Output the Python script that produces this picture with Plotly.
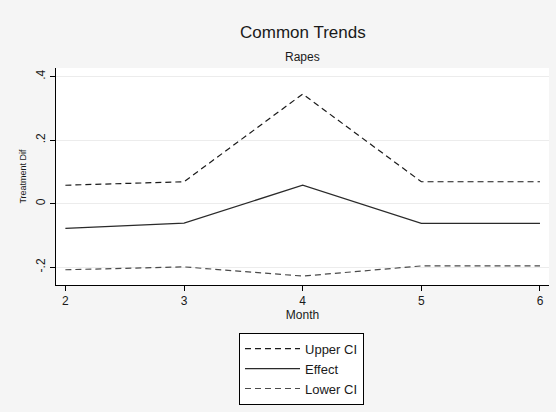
import plotly.graph_objects as go

months = [2, 3, 4, 5, 6]
upper_ci = [0.058, 0.069, 0.345, 0.069, 0.069]
effect = [-0.078, -0.061, 0.058, -0.062, -0.062]
lower_ci = [-0.208, -0.199, -0.228, -0.196, -0.196]

y_tickvals = [-0.2, 0, 0.2, 0.4]
y_ticktext = ["-.2", "0", ".2", ".4"]
x_tickvals = [2, 3, 4, 5, 6]

FONT = "Liberation Sans, Arial, sans-serif"

fig = go.Figure()
fig.add_trace(go.Scatter(x=months, y=upper_ci, mode="lines", name="Upper CI",
                         line=dict(color="#1a1a1a", width=1.2, dash="6px,4px")))
fig.add_trace(go.Scatter(x=months, y=effect, mode="lines", name="Effect",
                         line=dict(color="#2a2a2a", width=1.2)))
fig.add_trace(go.Scatter(x=months, y=lower_ci, mode="lines", name="Lower CI",
                         line=dict(color="#4a4a4a", width=1.2, dash="6px,4px")))

plot_h = 412 - 68 - 127

fig.update_layout(
    width=556, height=412,
    margin=dict(l=56, r=7, t=68, b=127),
    paper_bgcolor="#f5f5f5",
    plot_bgcolor="#ffffff",
    font=dict(family=FONT, size=12, color="#1a1a1a"),
    showlegend=True,
    legend=dict(x=0.498, xanchor="center", y=-0.22, yanchor="top",
                bgcolor="#ffffff", bordercolor="#000000", borderwidth=1,
                font=dict(family=FONT, size=13, color="#1a1a1a"),
                itemwidth=55, tracegroupgap=0),
    xaxis=dict(range=[1.921, 6.076], tickvals=x_tickvals,
               showline=True, linecolor="#000000", linewidth=1,
               ticks="outside", ticklen=5, tickcolor="#000000",
               showgrid=False, zeroline=False,
               tickfont=dict(size=12),
               title=dict(text="Month", font=dict(size=12), standoff=2)),
    yaxis=dict(range=[-0.256, 0.427], tickvals=y_tickvals, ticktext=y_ticktext,
               tickangle=-90,
               showline=True, linecolor="#000000", linewidth=1,
               ticks="outside", ticklen=5, tickcolor="#000000",
               showgrid=True, gridcolor="#ececec", gridwidth=1,
               zeroline=False,
               tickfont=dict(size=12),
               title=dict(text="Treatment Dif", font=dict(size=9), standoff=6)),
    annotations=[
        dict(text="Common Trends", x=0.5, xref="paper",
             y=1 + (68 - 33) / plot_h, yref="paper", yanchor="middle",
             showarrow=False, font=dict(size=17, color="#1a1a1a")),
        dict(text="Rapes", x=0.5, xref="paper",
             y=1 + (68 - 57) / plot_h, yref="paper", yanchor="middle",
             showarrow=False, font=dict(size=12, color="#1a1a1a")),
    ],
)

fig.write_html(
    "out.html",
    config={"displayModeBar": False},
    post_script="document.body.style.margin='0';document.body.style.background='#f5f5f5';",
)
